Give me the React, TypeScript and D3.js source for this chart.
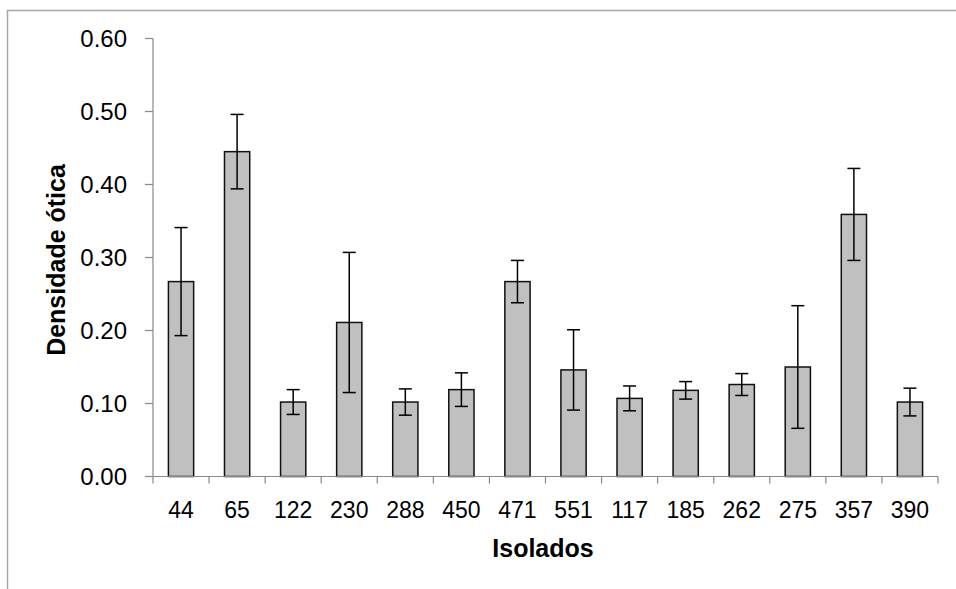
import React from 'react';
import * as d3 from 'd3';

const width = 956;
const height = 589;

// isolates on the x axis
const isolados = ['44', '65', '122', '230', '288', '450', '471', '551', '117', '185', '262', '275', '357', '390'];
// optical density means
const densidade = [0.267, 0.445, 0.102, 0.211, 0.102, 0.119, 0.267, 0.146, 0.107, 0.118, 0.126, 0.150, 0.359, 0.102];
// error (± std dev)
const erro = [0.074, 0.051, 0.017, 0.096, 0.018, 0.023, 0.029, 0.055, 0.017, 0.012, 0.015, 0.084, 0.063, 0.019];
const yTicks = [0, 0.1, 0.2, 0.3, 0.4, 0.5, 0.6];

const margin = { left: 153, right: 18, top: 38.5, bottom: 112.5 };

const font = 'Arial, "Liberation Sans", sans-serif';

export default function App() {
  const x = d3
    .scaleBand<string>()
    .domain(isolados)
    .range([margin.left, width - margin.right])
    .paddingInner(0.55)
    .paddingOuter(0.275);

  const y = d3
    .scaleLinear()
    .domain([0, 0.6])
    .range([height - margin.bottom, margin.top]);

  const y0 = y(0);
  const step = x.step();
  const bw = x.bandwidth();
  const x0 = margin.left;
  const x1 = width - margin.right;

  return (
    <svg width={width} height={height} style={{ position: 'absolute', left: 0, top: 0 }}>
      <rect x={0} y={0} width={width} height={height} fill="#fff" />
      {/* chart frame, cut at the picture edges */}
      <path d={`M7.5,${height + 5}V10.5H${width + 5}`} fill="none" stroke="#a6a6a6" strokeWidth={1.5} />

      {/* bars */}
      {isolados.map((k, i) => (
        <rect
          key={k}
          x={x(k)!}
          y={y(densidade[i])}
          width={bw}
          height={y0 - y(densidade[i])}
          fill="#c0c0c0"
          stroke="#111"
          strokeWidth={1.5}
        />
      ))}

      {/* error bars */}
      {isolados.map((k, i) => {
        const cx = x(k)! + bw / 2;
        const top = y(densidade[i] + erro[i]);
        const bot = y(densidade[i] - erro[i]);
        return (
          <g key={k} stroke="#000" strokeWidth={1.5}>
            <line x1={cx} x2={cx} y1={top} y2={bot} />
            <line x1={cx - 6.5} x2={cx + 6.5} y1={top} y2={top} />
            <line x1={cx - 6.5} x2={cx + 6.5} y1={bot} y2={bot} />
          </g>
        );
      })}

      {/* y axis */}
      <g stroke="#888" strokeWidth={1.2}>
        <line x1={x0} x2={x0} y1={y(0.6)} y2={y0} />
        {yTicks.map(t => (
          <line key={t} x1={x0 - 8} x2={x0} y1={y(t)} y2={y(t)} />
        ))}
      </g>
      {yTicks.map(t => (
        <text
          key={t}
          x={127}
          y={y(t)}
          dy="0.36em"
          textAnchor="end"
          fontFamily={font}
          fontSize={24}
          fill="#000"
        >
          {t.toFixed(2)}
        </text>
      ))}

      {/* x axis */}
      <g stroke="#888" strokeWidth={1.2}>
        <line x1={x0 - 8} x2={x1} y1={y0} y2={y0} />
        {d3.range(isolados.length + 1).map(i => (
          <line key={i} x1={x0 + i * step} x2={x0 + i * step} y1={y0} y2={y0 + 7} />
        ))}
      </g>
      {isolados.map(k => (
        <text
          key={k}
          x={x(k)! + bw / 2}
          y={518}
          textAnchor="middle"
          fontFamily={font}
          fontSize={23}
          fill="#000"
        >
          {k}
        </text>
      ))}

      {/* axis titles */}
      <text
        x={543}
        y={557}
        textAnchor="middle"
        fontFamily={font}
        fontSize={25}
        fontWeight="bold"
        fill="#000"
      >
        Isolados
      </text>
      <text
        transform={`translate(65, 260) rotate(-90)`}
        textAnchor="middle"
        fontFamily={font}
        fontSize={25}
        fontWeight="bold"
        fill="#000"
      >
        Densidade ótica
      </text>
    </svg>
  );
}
